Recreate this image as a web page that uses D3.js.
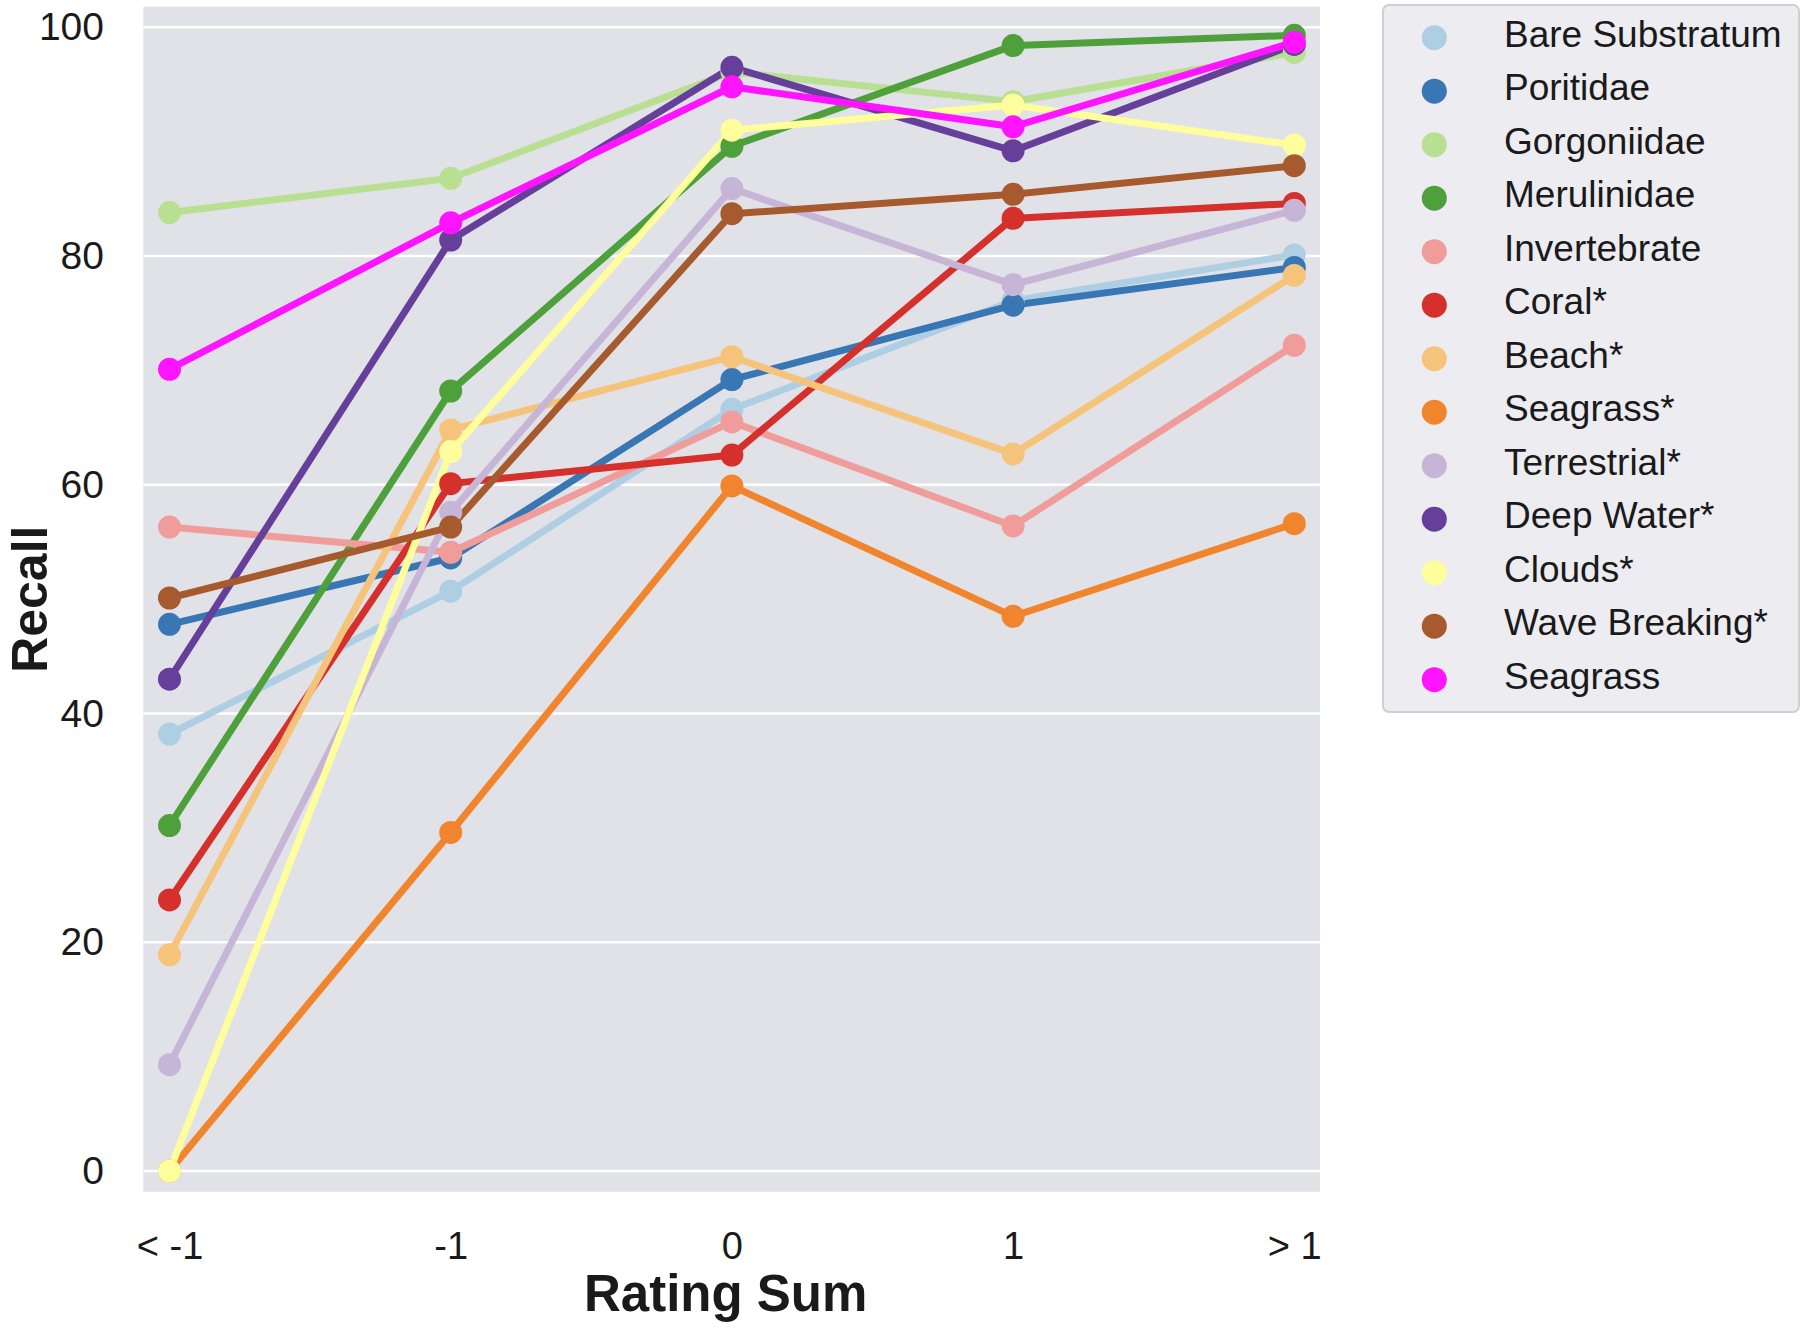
<!DOCTYPE html>
<html>
<head>
<meta charset="utf-8">
<script src="https://cdnjs.cloudflare.com/ajax/libs/d3/7.8.5/d3.min.js"></script>
<style>
  body { margin: 0; background: #fff; }
  text { font-family: "Liberation Sans", Arial, sans-serif; fill: #1a1a1a; }
</style>
</head>
<body>
<script>
// rating sum groups on the x axis
const categories = ["< -1", "-1", "0", "1", "> 1"];
const yTicks = [0, 20, 40, 60, 80, 100];

// recall per class
const bareSubstratum = [38.2, 50.7, 66.6, 76.1, 80.1];
const poritidae      = [47.8, 53.6, 69.2, 75.7, 79.0];
const gorgoniidae    = [83.8, 86.8, 96.1, 93.5, 97.8];
const merulinidae    = [30.2, 68.2, 89.6, 98.4, 99.3];
const invertebrate   = [56.3, 54.1, 65.5, 56.4, 72.2];
const coral          = [23.7, 60.1, 62.6, 83.3, 84.6];
const beach          = [18.9, 64.8, 71.2, 62.7, 78.3];
const seagrassStar   = [0.0, 29.6, 59.9, 48.5, 56.6];
const terrestrial    = [9.3, 57.6, 85.9, 77.5, 84.0];
const deepWater      = [43.0, 81.4, 96.5, 89.2, 98.5];
const clouds         = [0.0, 62.9, 91.0, 93.2, 89.7];
const waveBreaking   = [50.1, 56.3, 83.7, 85.4, 87.9];
const seagrass       = [70.1, 82.9, 94.8, 91.3, 98.7];

const seriesNames = ["Bare Substratum", "Poritidae", "Gorgoniidae", "Merulinidae",
  "Invertebrate", "Coral*", "Beach*", "Seagrass*", "Terrestrial*", "Deep Water*",
  "Clouds*", "Wave Breaking*", "Seagrass"];
const seriesValues = [bareSubstratum, poritidae, gorgoniidae, merulinidae,
  invertebrate, coral, beach, seagrassStar, terrestrial, deepWater,
  clouds, waveBreaking, seagrass];
const colors = ["#aecfe3", "#3876b4", "#b9df92", "#4da03a", "#f09c9a", "#d5302c",
  "#f6c37a", "#f0852d", "#c7b5d7", "#653f9a", "#fefe9c", "#a65a2e", "#ff14ff"];

const series = seriesNames.map((name, i) => ({
  name: name,
  color: colors[i],
  values: seriesValues[i].map((v, j) => ({ cat: categories[j], value: v }))
}));

const W = 1807, H = 1328;
const plot = { left: 143.3, top: 6.7, right: 1320, bottom: 1191.7 };

const svg = d3.select("body").append("svg")
  .attr("width", W)
  .attr("height", H);

const x = d3.scalePoint().domain(categories).range([169.5, 1294.3]);
const y = d3.scaleLinear().domain([0, 100]).range([1171, 27.3]);

// background
svg.append("rect")
  .attr("x", plot.left).attr("y", plot.top)
  .attr("width", plot.right - plot.left)
  .attr("height", plot.bottom - plot.top)
  .attr("fill", "#e1e2e7");

// grid
svg.append("g").selectAll("line")
  .data(yTicks)
  .enter().append("line")
  .attr("x1", plot.left).attr("x2", plot.right)
  .attr("y1", d => y(d)).attr("y2", d => y(d))
  .attr("stroke", "#fff")
  .attr("stroke-width", 2.6);

// axes (no tick marks, no domain line)
const yAxis = d3.axisLeft(y).tickValues(yTicks).tickSize(0).tickPadding(0);
svg.append("g")
  .attr("transform", "translate(104,0)")
  .call(yAxis)
  .call(g => g.select(".domain").remove())
  .selectAll("text")
  .style("font-size", "39px")
  .style("font-family", "'Liberation Sans', Arial, sans-serif")
  .attr("fill", "#1a1a1a");

const xAxis = d3.axisBottom(x).tickSize(0).tickPadding(0);
svg.append("g")
  .attr("transform", "translate(0,1232)")
  .call(xAxis)
  .call(g => g.select(".domain").remove())
  .selectAll("text")
  .style("font-size", "38px")
  .style("font-family", "'Liberation Sans', Arial, sans-serif")
  .attr("fill", "#1a1a1a");

// axis titles
svg.append("text")
  .attr("x", (plot.left + plot.right) / 2 - 6)
  .attr("y", 1311)
  .attr("text-anchor", "middle")
  .style("font-size", "51px")
  .style("font-weight", "bold")
  .text("Rating Sum");

svg.append("text")
  .attr("transform", "translate(47," + ((plot.top + plot.bottom) / 2) + ") rotate(-90)")
  .attr("text-anchor", "middle")
  .style("font-size", "50px")
  .style("font-weight", "bold")
  .text("Recall");

// lines
const line = d3.line()
  .x(d => x(d.cat))
  .y(d => y(d.value));

svg.append("g").selectAll("path")
  .data(series)
  .enter().append("path")
  .attr("d", d => line(d.values))
  .attr("fill", "none")
  .attr("stroke", d => d.color)
  .attr("stroke-width", 7)
  .attr("stroke-linejoin", "round");

// points
svg.append("g").selectAll("g")
  .data(series)
  .enter().append("g")
  .attr("fill", d => d.color)
  .selectAll("circle")
  .data(d => d.values)
  .enter().append("circle")
  .attr("cx", d => x(d.cat))
  .attr("cy", d => y(d.value))
  .attr("r", 11.5);

// legend
const legend = svg.append("g");
legend.append("rect")
  .attr("x", 1383).attr("y", 5)
  .attr("width", 416).attr("height", 707)
  .attr("rx", 6)
  .attr("fill", "#ececf1")
  .attr("stroke", "#cfcfd2")
  .attr("stroke-width", 2);

const rowY = d3.scaleLinear().domain([0, seriesNames.length - 1]).range([37.7, 679.7]);

const rows = legend.selectAll(".row")
  .data(series)
  .enter().append("g")
  .attr("class", "row")
  .attr("transform", (d, i) => "translate(0," + rowY(i) + ")");

rows.append("circle")
  .attr("cx", 1434.3)
  .attr("r", 12.5)
  .attr("fill", d => d.color);

rows.append("text")
  .attr("x", 1504)
  .attr("y", 9)
  .style("font-size", "37px")
  .text(d => d.name);
</script>
</body>
</html>
